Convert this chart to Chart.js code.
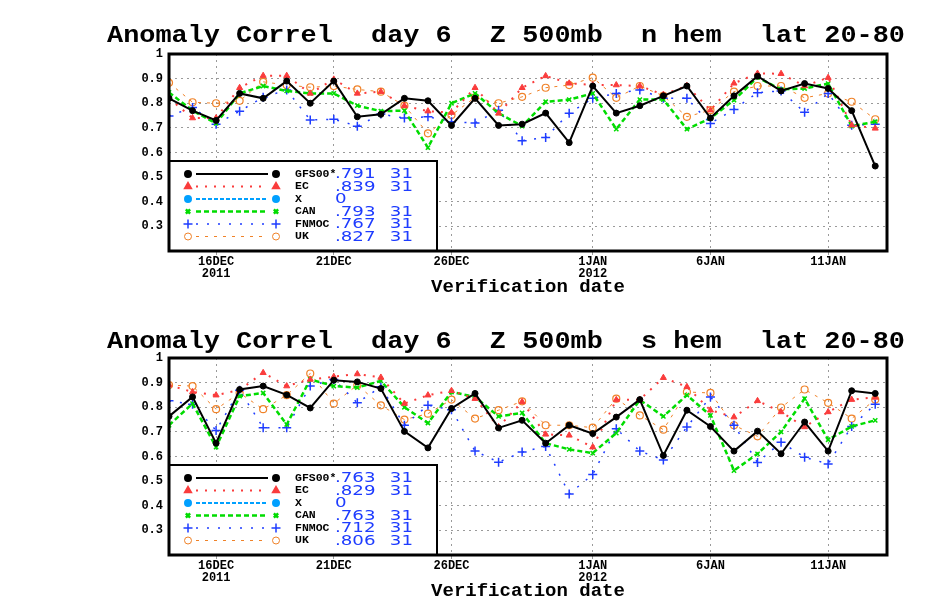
<!DOCTYPE html>
<html>
<head>
<meta charset="utf-8">
<script src="https://cdn.jsdelivr.net/npm/chart.js@4.4.1/dist/chart.umd.min.js"></script>
<style>
  body { margin: 0; background: #fff; }
  .panel { position: relative; width: 930px; height: 304px; }
</style>
</head>
<body>
<div class="panel"><canvas id="nh"></canvas></div>
<div class="panel"><canvas id="sh"></canvas></div>
<script>
// days since 14 Dec 2011 (verification dates)
const days = [0, 1, 2, 3, 4, 5, 6, 7, 8, 9, 10, 11, 12, 13, 14, 15, 16, 17, 18, 19, 20, 21, 22, 23, 24, 25, 26, 27, 28, 29, 30];
const tickDays = [2, 7, 12, 18, 23, 28];
const tickDates = ['16DEC', '21DEC', '26DEC', '1JAN', '6JAN', '11JAN'];
const tickYears = ['2011', '', '', '2012', '', ''];
const yTicks = [0.2, 0.3, 0.4, 0.5, 0.6, 0.7, 0.8, 0.9, 1];

const models = ['GFS00*', 'EC', 'X', 'CAN', 'FNMOC', 'UK'];

// northern hemisphere
const nhGFS   = [0.82, 0.77, 0.73, 0.84, 0.82, 0.89, 0.80, 0.89, 0.745, 0.755, 0.82, 0.81, 0.71, 0.82, 0.71, 0.715, 0.76, 0.64, 0.87, 0.76, 0.79, 0.83, 0.87, 0.74, 0.83, 0.91, 0.85, 0.88, 0.86, 0.77, 0.545];
const nhEC    = [0.82, 0.74, 0.74, 0.863, 0.912, 0.912, 0.84, 0.897, 0.84, 0.847, 0.79, 0.768, 0.762, 0.863, 0.759, 0.863, 0.911, 0.881, 0.874, 0.874, 0.87, 0.835, 0.871, 0.772, 0.881, 0.921, 0.92, 0.87, 0.904, 0.711, 0.698];
const nhX     = [];
const nhCAN   = [0.844, 0.77, 0.718, 0.84, 0.87, 0.85, 0.84, 0.84, 0.79, 0.768, 0.77, 0.62, 0.80, 0.84, 0.76, 0.707, 0.806, 0.815, 0.84, 0.695, 0.815, 0.815, 0.695, 0.739, 0.813, 0.905, 0.856, 0.86, 0.88, 0.707, 0.725];
const nhFNMOC = [0.748, 0.783, 0.715, 0.768, 0.824, 0.854, 0.732, 0.735, 0.707, 0.756, 0.74, 0.745, 0.725, 0.72, 0.772, 0.648, 0.661, 0.759, 0.82, 0.84, 0.854, 0.82, 0.82, 0.718, 0.775, 0.843, 0.85, 0.763, 0.84, 0.711, 0.715];
const nhUK    = [0.883, 0.804, 0.80, 0.81, 0.887, 0.874, 0.865, 0.87, 0.856, 0.847, 0.79, 0.678, 0.752, 0.824, 0.80, 0.826, 0.863, 0.874, 0.904, 0.822, 0.87, 0.83, 0.745, 0.772, 0.847, 0.87, 0.87, 0.822, 0.84, 0.806, 0.735];
const nhScores = ['.791', '.839', '0', '.793', '.767', '.827'];
const nhCounts = ['31', '31', '', '31', '31', '31'];

// southern hemisphere
const shGFS   = [0.763, 0.842, 0.654, 0.872, 0.886, 0.85, 0.797, 0.91, 0.903, 0.876, 0.702, 0.635, 0.795, 0.856, 0.716, 0.747, 0.654, 0.727, 0.693, 0.76, 0.831, 0.604, 0.788, 0.722, 0.622, 0.703, 0.611, 0.74, 0.622, 0.867, 0.856];
const shEC    = [0.89, 0.862, 0.849, 0.87, 0.94, 0.886, 0.913, 0.924, 0.935, 0.921, 0.815, 0.849, 0.867, 0.835, 0.72, 0.822, 0.69, 0.686, 0.638, 0.83, 0.831, 0.92, 0.883, 0.788, 0.76, 0.826, 0.781, 0.72, 0.781, 0.831, 0.84];
const shX     = [];
const shCAN   = [0.727, 0.815, 0.638, 0.845, 0.858, 0.73, 0.913, 0.886, 0.88, 0.907, 0.80, 0.736, 0.862, 0.842, 0.763, 0.777, 0.654, 0.629, 0.614, 0.695, 0.83, 0.763, 0.849, 0.767, 0.543, 0.611, 0.70, 0.835, 0.668, 0.722, 0.747];
const shFNMOC = [0.826, 0.812, 0.706, 0.869, 0.717, 0.717, 0.886, 0.913, 0.818, 0.883, 0.727, 0.808, 0.79, 0.622, 0.577, 0.618, 0.641, 0.448, 0.527, 0.713, 0.622, 0.586, 0.72, 0.842, 0.727, 0.576, 0.658, 0.597, 0.57, 0.722, 0.812];
const shUK    = [0.89, 0.886, 0.792, 0.858, 0.792, 0.849, 0.937, 0.815, 0.89, 0.808, 0.75, 0.774, 0.831, 0.754, 0.788, 0.824, 0.727, 0.727, 0.717, 0.835, 0.767, 0.709, 0.862, 0.858, 0.727, 0.682, 0.799, 0.872, 0.818, 0.754, 0.831];
const shScores = ['.763', '.829', '0', '.763', '.712', '.806'];
const shCounts = ['31', '31', '', '31', '31', '31'];

const styles = [
  { color: '#000000', dash: [],     width: 2,   point: 'circle',   radius: 3,   fill: true,  pw: 1 },
  { color: '#fa3c3c', dash: [2, 7], width: 2,   point: 'triangle', radius: 3.5, fill: true,  pw: 1 },
  { color: '#00a0ff', dash: [4, 2], width: 2,   point: 'circle',   radius: 3,   fill: true,  pw: 1 },
  { color: '#00dc00', dash: [5, 3], width: 2.5, point: 'crossRot', radius: 3,   fill: false, pw: 1.5 },
  { color: '#1e3cff', dash: [2, 9], width: 1.5, point: 'cross',    radius: 4.5, fill: false, pw: 1.5 },
  { color: '#f08228', dash: [3, 6], width: 1,   point: 'circle',   radius: 3.5, fill: false, pw: 1.2 },
];

// title spans x 107..905; word groups share one stretch and equal gaps
const titleLeft = 107, titleRight = 905, titleStretch = 1.12;

const pts = vals => vals.map((v, i) => ({ x: days[i], y: v }));

const panelPlugin = {
  id: 'panel',
  afterDatasetsDraw(chart, args, opts) {
    const { ctx, chartArea: a } = chart;
    ctx.save();
    // legend box
    const bx = 169, by = 161, bw = 268, bh = a.bottom - 161;
    ctx.fillStyle = '#fff';
    ctx.fillRect(bx, by, bw, bh);
    ctx.strokeStyle = '#000';
    ctx.lineWidth = 2;
    ctx.strokeRect(bx, by, bw, bh);
    const rows = [174, 186.5, 199, 211.5, 224, 236.5];
    models.forEach((m, i) => {
      const s = styles[i], y = rows[i];
      ctx.strokeStyle = s.color;
      ctx.lineWidth = s.width;
      ctx.setLineDash(s.dash);
      ctx.beginPath(); ctx.moveTo(196, y); ctx.lineTo(268, y); ctx.stroke();
      ctx.setLineDash([]);
      ctx.fillStyle = s.fill ? s.color : '#fff';
      [188, 276].forEach(px => Chart.helpers.drawPoint(ctx, { pointStyle: s.point, radius: s.radius, borderWidth: s.pw, rotation: 0 }, px, y));
      ctx.fillStyle = '#000';
      ctx.font = 'bold 11.5px "Liberation Mono"';
      ctx.textBaseline = 'middle';
      ctx.textAlign = 'left';
      ctx.fillText(m, 295, y);
      ctx.fillStyle = '#1e3cff';
      ctx.font = '14px "DejaVu Sans"';
      ctx.textBaseline = 'alphabetic';
      ctx.save(); ctx.translate(335, y + 4); ctx.scale(1.3, 1); ctx.fillText(opts.scores[i], 0, 0); ctx.restore();
      ctx.save(); ctx.translate(413, y + 4); ctx.scale(1.3, 1); ctx.textAlign = 'right'; ctx.fillText(opts.counts[i], 0, 0); ctx.restore();
    });
    // frame
    ctx.strokeStyle = '#000';
    ctx.lineWidth = 3;
    ctx.strokeRect(a.left, a.top, a.right - a.left, a.bottom - a.top);
    // title, word group by word group
    ctx.fillStyle = '#000';
    ctx.textAlign = 'left';
    ctx.textBaseline = 'alphabetic';
    ctx.font = 'bold 24px "Liberation Mono"';
    const widths = opts.title.map(t => ctx.measureText(t).width * titleStretch);
    const gap = (titleRight - titleLeft - widths.reduce((s, w) => s + w, 0)) / (opts.title.length - 1);
    let x = titleLeft;
    opts.title.forEach((t, i) => {
      ctx.save(); ctx.translate(x, opts.titleY); ctx.scale(titleStretch, 1); ctx.fillText(t, 0, 0); ctx.restore();
      x += widths[i] + gap;
    });
    ctx.font = 'bold 19px "Liberation Mono"';
    ctx.textAlign = 'center';
    ctx.fillText('Verification date', (a.left + a.right) / 2, 292);
    ctx.restore();
  }
};

function makeChart(id, series, scores, counts, title, titleY) {
  new Chart(document.getElementById(id), {
    type: 'line',
    data: {
      datasets: series.map((vals, i) => {
        const s = styles[i];
        return {
          label: models[i],
          data: pts(vals),
          borderColor: s.color,
          borderWidth: s.width,
          borderDash: s.dash,
          pointStyle: s.point,
          pointRadius: s.radius,
          pointBorderWidth: s.pw,
          pointBorderColor: s.color,
          pointBackgroundColor: s.fill ? s.color : 'rgba(0,0,0,0)',
          tension: 0,
          fill: false,
        };
      }),
    },
    options: {
      responsive: true,
      maintainAspectRatio: false,
      animation: false,
      layout: { padding: { top: 54, right: 43, left: 0, bottom: 0 } },
      plugins: {
        legend: { display: false },
        tooltip: { enabled: false },
        panel: { scores, counts, title, titleY },
      },
      scales: {
        x: {
          type: 'linear',
          min: 0,
          max: 30.5,
          afterFit: s => { s.height = 53; },
          afterBuildTicks: s => { s.ticks = tickDays.map(v => ({ value: v })); },
          ticks: {
            autoSkip: false,
            maxRotation: 0,
            padding: 1,
            color: '#000',
            font: { family: 'Liberation Mono', weight: 'bold', size: 12, lineHeight: 1.0 },
            callback: v => {
              const k = tickDays.indexOf(v);
              return tickYears[k] ? [tickDates[k], tickYears[k]] : tickDates[k];
            },
          },
          grid: { color: '#9a9a9a', lineWidth: 1, tickLength: 4, tickColor: '#9a9a9a' },
          border: { display: false, dash: [2, 4] },
        },
        y: {
          min: 0.2,
          max: 1,
          afterFit: s => { s.width = 169; },
          afterBuildTicks: s => { s.ticks = yTicks.map(v => ({ value: v })); },
          ticks: {
            padding: 6,
            color: '#000',
            font: { family: 'Liberation Mono', weight: 'bold', size: 12 },
            callback: v => (v < 0.25 ? '' : v > 0.95 ? '1' : v.toFixed(1)),
          },
          grid: { color: '#9a9a9a', lineWidth: 1, drawTicks: false },
          border: { display: false, dash: [2, 4] },
        },
      },
    },
    plugins: [panelPlugin],
  });
}

makeChart('nh', [nhGFS, nhEC, nhX, nhCAN, nhFNMOC, nhUK], nhScores, nhCounts,
  ['Anomaly Correl', 'day 6', 'Z 500mb', 'n hem', 'lat 20-80'], 42);
makeChart('sh', [shGFS, shEC, shX, shCAN, shFNMOC, shUK], shScores, shCounts,
  ['Anomaly Correl', 'day 6', 'Z 500mb', 's hem', 'lat 20-80'], 44);
</script>
</body>
</html>
